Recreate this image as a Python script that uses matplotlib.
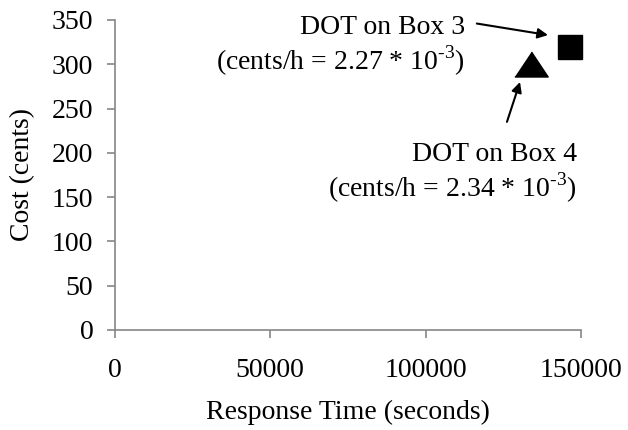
#!/usr/bin/env python3

import matplotlib
matplotlib.use('Agg')
import matplotlib.pyplot as plt

# define font
plt.rcParams['font.family'] = 'serif'
plt.rcParams['font.serif'] = ['Liberation Serif'] + plt.rcParams['font.serif']
plt.rcParams['mathtext.fontset'] = 'custom'
plt.rcParams['mathtext.rm'] = 'Liberation Serif'
plt.rc('font', size=20)
plt.rc('axes', unicode_minus=False)

# data: response time (s) and cost (cents)
labels = ['DOT on Box 3', 'DOT on Box 4']
rates = ['2.27', '2.34']
resp_time = [146500, 134000]
cost = [320, 300]
markers = ['s', [(-1, -0.75), (1, -0.75), (0, 0.75)]]
msizes = [17, 24]

xticks = [0, 50000, 100000, 150000]
yticks = [0, 50, 100, 150, 200, 250, 300, 350]

# annotation positions (data coords): text anchor, arrow tail, arrow head
text_pos = [(112700, 356), (148700, 212)]
arrow_tail = [(116500, 346), (126200, 235)]
arrow_head = [(139400, 333), (130400, 280)]

fig = plt.figure(figsize=(6.28, 4.30), dpi=100)
ax = fig.add_axes([0.183, 0.2326, 0.742, 0.7209])

for x, y, m, ms in zip(resp_time, cost, markers, msizes):
    ax.plot([x], [y], marker=m, markersize=ms, color='black', linestyle='none', clip_on=False)

for lab, r, tp, at, ah in zip(labels, rates, text_pos, arrow_tail, arrow_head):
    ax.text(tp[0], tp[1], lab + '\n(cents/h = ' + r + r' * 10$^{\text{-3}}$)',
            ha='right', va='top', multialignment='right', linespacing=1.15)
    ax.annotate('', xy=ah, xytext=at,
                arrowprops=dict(arrowstyle='-|>', color='black', lw=1.5,
                                mutation_scale=15, shrinkA=0, shrinkB=0))

ax.set_xlim(0, 150000)
ax.set_ylim(0, 350)
ax.set_xticks(xticks)
ax.set_yticks(yticks)

for s in ['top', 'right']:
    ax.spines[s].set_visible(False)
for s in ['left', 'bottom']:
    ax.spines[s].set_color('#868686')
    ax.spines[s].set_linewidth(1.2)
ax.tick_params(axis='both', direction='out', length=5.5, width=1.2, color='#868686')
ax.tick_params(axis='y', pad=10)
ax.tick_params(axis='x', pad=15)

ax.set_xlabel('Response Time (seconds)', labelpad=12)
ax.set_ylabel('Cost (cents)', labelpad=12)

fig.savefig('out.png', dpi=100)
